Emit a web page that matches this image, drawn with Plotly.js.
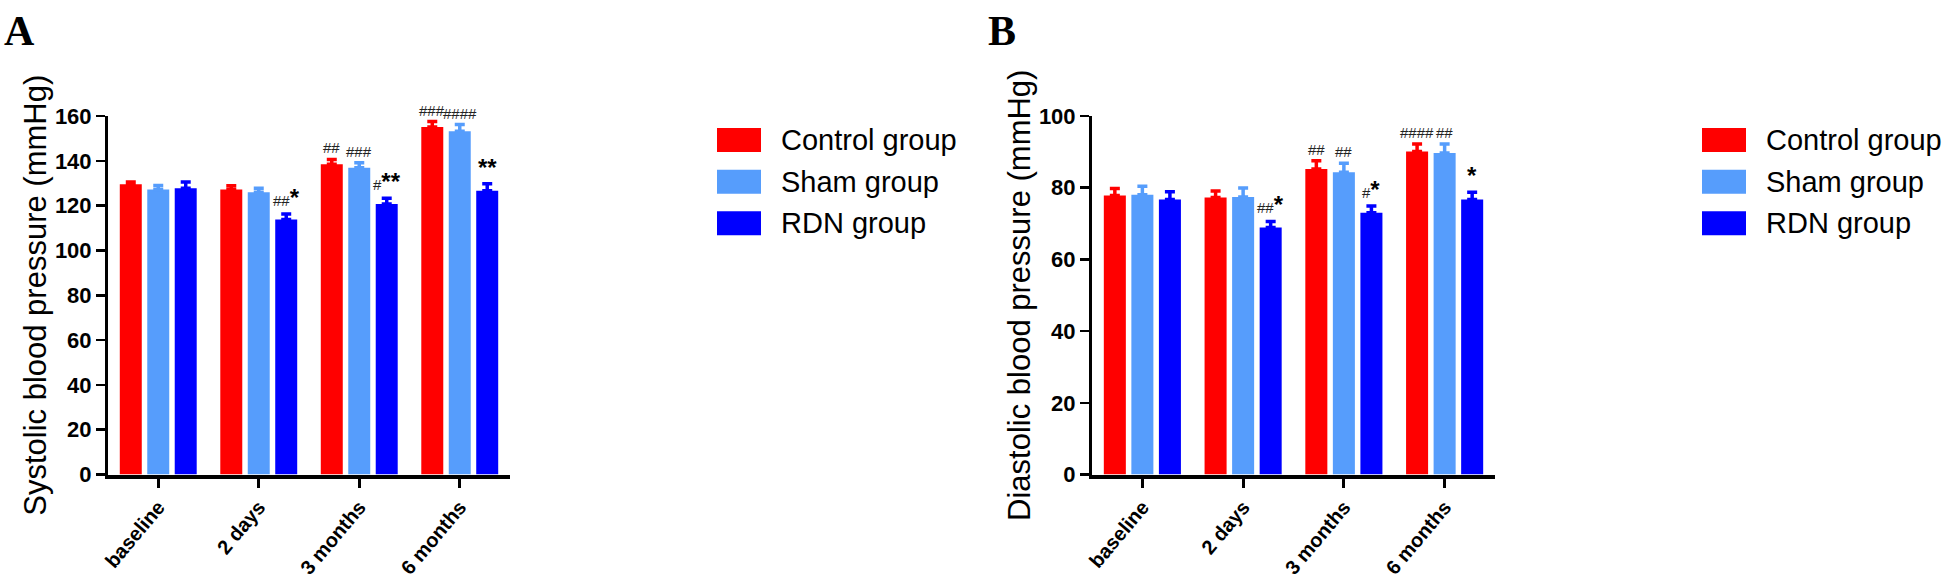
<!DOCTYPE html>
<html>
<head>
<meta charset="utf-8">
<script src="https://cdn.plot.ly/plotly-3.0.1.min.js"></script>
<style>html,body{margin:0;padding:0;background:#fff;}#chart{width:1946px;height:587px;}</style>
</head>
<body>
<div id="chart"></div>
<script>
// ---- data ----
const categories = ['baseline', '2 days', '3 months', '6 months'];
const groups = ['Control group', 'Sham group', 'RDN group'];
const colors = ['#ff0000', '#569dfc', '#0000ff'];

// Panel A: systolic blood pressure (mmHg)
const sbpControl = [129.5, 127.2, 138.5, 155.1];
const sbpSham    = [127.2, 126.0, 136.9, 153.2];
const sbpRDN     = [127.7, 113.8, 120.7, 126.6];
const sbpControlErr = [1.0, 1.7, 2.1, 2.4];
const sbpShamErr    = [1.8, 1.7, 2.2, 3.0];
const sbpRDNErr     = [2.8, 2.5, 2.6, 3.2];
const sbpControlSig = ['', '', '##', '###'];
const sbpShamSig    = ['', '', '###', '####'];
const sbpRDNSig     = ['', '##*', '#**', '**'];

// Panel B: diastolic blood pressure (mmHg)
const dbpControl = [77.8, 77.3, 85.2, 90.1];
const dbpSham    = [78.0, 77.4, 84.3, 89.7];
const dbpRDN     = [76.7, 68.9, 73.0, 76.7];
const dbpControlErr = [2.0, 1.8, 2.3, 2.1];
const dbpShamErr    = [2.4, 2.5, 2.5, 2.5];
const dbpRDNErr     = [2.2, 1.7, 1.9, 2.0];
const dbpControlSig = ['', '', '##', '####'];
const dbpShamSig    = ['', '', '##', '##'];
const dbpRDNSig     = ['', '##*', '#*', '*'];

const sbpTicks = [0, 20, 40, 60, 80, 100, 120, 140, 160];
const dbpTicks = [0, 20, 40, 60, 80, 100];

// ---- styling / layout ----
const W = 1946, H = 587;
const BARGAP = 0.18, BARGROUPGAP = 0.2;
const SANS = '"Liberation Sans", Arial, sans-serif';
const yDomain = [1 - 474.5 / H, 1 - 116 / H];

function barTraces(vals, errs, xa, ya) {
  return vals.map((v, i) => ({
    type: 'bar', x: categories, y: v, name: groups[i], xaxis: xa, yaxis: ya,
    marker: {color: colors[i], line: {width: 0}},
    showlegend: false,
    error_y: {type: 'data', array: errs[i], arrayminus: errs[i].map(() => 0), symmetric: false,
              visible: true, color: colors[i], thickness: 3.5, width: 5}
  }));
}

function sigText(s) {
  const hashes = s.replace(/\*/g, '');
  const stars = s.replace(/#/g, '');
  let t = hashes;
  if (stars) t += '<b><span style="font-size:24px;color:#000">' + stars + '</span></b>';
  return t;
}

function sigAnnots(vals, errs, sigs, xa, ya) {
  const slot = (1 - BARGAP) / 3;
  const out = [];
  sigs.forEach((arr, g) => {
    arr.forEach((s, c) => {
      if (!s) return;
      out.push({
        xref: xa, yref: ya, x: c + (g - 1) * slot, y: vals[g][c] + errs[g][c],
        text: sigText(s), showarrow: false, xanchor: 'center', yanchor: 'bottom', yshift: 1,
        font: {family: SANS, size: 15, color: '#222'}
      });
    });
  });
  return out;
}

function legendItems(x0px) {
  const shapes = [], annots = [];
  const rows = [140, 181.7, 223.3];
  groups.forEach((g, i) => {
    shapes.push({type: 'rect', xref: 'paper', yref: 'paper',
      x0: x0px / W, x1: (x0px + 44) / W, y0: 1 - (rows[i] + 12) / H, y1: 1 - (rows[i] - 12) / H,
      fillcolor: colors[i], line: {width: 0}});
    annots.push({xref: 'paper', yref: 'paper', x: (x0px + 62) / W, y: 1 - rows[i] / H,
      xanchor: 'left', yanchor: 'middle', showarrow: false, text: g,
      font: {family: SANS, size: 29, color: '#000'}});
  });
  return {shapes, annots};
}

const sbpVals = [sbpControl, sbpSham, sbpRDN];
const sbpErrs = [sbpControlErr, sbpShamErr, sbpRDNErr];
const sbpSigs = [sbpControlSig, sbpShamSig, sbpRDNSig];
const dbpVals = [dbpControl, dbpSham, dbpRDN];
const dbpErrs = [dbpControlErr, dbpShamErr, dbpRDNErr];
const dbpSigs = [dbpControlSig, dbpShamSig, dbpRDNSig];

const data = [...barTraces(sbpVals, sbpErrs, 'x', 'y'), ...barTraces(dbpVals, dbpErrs, 'x2', 'y2')];

function xAxis(domain, anchor) {
  return {domain, anchor, type: 'category', range: [-0.5, 3.5], showgrid: false, zeroline: false,
    showline: true, linewidth: 4, linecolor: '#000', ticks: 'outside', ticklen: 9, tickwidth: 3,
    tickcolor: '#000', tickangle: -50, fixedrange: true, automargin: false,
    tickfont: {family: SANS, size: 20, color: '#000', weight: 'bold'}};
}
function yAxis(domain, anchor, range, ticks, title) {
  return {domain, anchor, range, tickvals: ticks, ticktext: ticks.map(String), showgrid: false,
    zeroline: false, showline: true, linewidth: 3, linecolor: '#000', ticks: 'outside', ticklen: 9,
    tickwidth: 2.5, tickcolor: '#000', automargin: false, fixedrange: true,
    tickfont: {family: SANS, size: 22, color: '#000', weight: 'bold'},
    title: {text: title, font: {family: SANS, size: 31, color: '#000'}, standoff: 0}};
}

const legA = legendItems(717), legB = legendItems(1702);

const layout = {
  width: W, height: H, margin: {l: 0, r: 0, t: 0, b: 0},
  paper_bgcolor: '#fff', plot_bgcolor: 'rgba(0,0,0,0)',
  barmode: 'group', bargap: BARGAP, bargroupgap: BARGROUPGAP, showlegend: false,
  xaxis: xAxis([108 / W, 510 / W], 'y'),
  yaxis: yAxis(yDomain, 'x', [0, 160], sbpTicks, 'Systolic blood pressure (mmHg)'),
  xaxis2: xAxis([1092 / W, 1495 / W], 'y2'),
  yaxis2: yAxis(yDomain, 'x2', [0, 100], dbpTicks, 'Diastolic blood pressure (mmHg)'),
  shapes: [...legA.shapes, ...legB.shapes],
  annotations: [
    ...sigAnnots(sbpVals, sbpErrs, sbpSigs, 'x', 'y'),
    ...sigAnnots(dbpVals, dbpErrs, dbpSigs, 'x2', 'y2'),
    ...legA.annots, ...legB.annots,
    {xref: 'paper', yref: 'paper', x: 2 / W, y: 1 - 6 / H, xanchor: 'left', yanchor: 'top', showarrow: false,
     text: '<b>A</b>', font: {family: '"Liberation Serif", "Times New Roman", serif', size: 42, color: '#000'}},
    {xref: 'paper', yref: 'paper', x: 986 / W, y: 1 - 6 / H, xanchor: 'left', yanchor: 'top', showarrow: false,
     text: '<b>B</b>', font: {family: '"Liberation Serif", "Times New Roman", serif', size: 42, color: '#000'}}
  ]
};

Plotly.newPlot('chart', data, layout, {displayModeBar: false, staticPlot: true});
</script>
</body>
</html>
